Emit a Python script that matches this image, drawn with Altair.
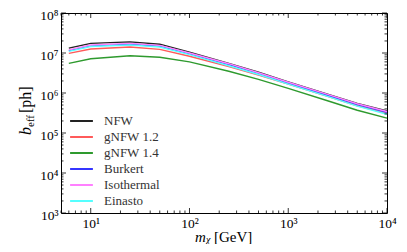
import altair as alt
import pandas as pd

mass = [6, 10, 25, 50, 100, 250, 500, 1000, 2500, 5000, 10000]
series_names = ["NFW", "gNFW 1.2", "gNFW 1.4", "Burkert", "Isothermal", "Einasto"]
colors = ["#222222", "#ff5a5a", "#2e9a2e", "#3535ff", "#ff80ff", "#55ffff"]

nfw = [1.32e7, 1.74e7, 1.90e7, 1.66e7, 1.05e7, 5.5e6, 3.3e6, 1.9e6, 9.4e5, 5.5e5, 3.55e5]
gnfw12 = [9.8e6, 1.26e7, 1.41e7, 1.23e7, 8.3e6, 4.6e6, 2.8e6, 1.66e6, 8.2e5, 4.8e5, 3.1e5]
gnfw14 = [5.5e6, 7.2e6, 8.5e6, 7.8e6, 6.0e6, 3.5e6, 2.2e6, 1.3e6, 6.4e5, 3.7e5, 2.35e5]
burkert = [1.15e7, 1.51e7, 1.66e7, 1.48e7, 9.5e6, 5.1e6, 3.1e6, 1.78e6, 8.8e5, 5.1e5, 3.3e5]
isothermal = [1.20e7, 1.58e7, 1.74e7, 1.55e7, 1.0e7, 5.4e6, 3.2e6, 1.86e6, 9.2e5, 5.4e5, 3.45e5]
einasto = [1.10e7, 1.45e7, 1.58e7, 1.41e7, 9.1e6, 4.8e6, 2.9e6, 1.66e6, 8.2e5, 4.7e5, 2.95e5]

x_major = [10, 100, 1000, 10000]
x_minor = [5, 6, 7, 8, 9, 20, 30, 40, 50, 60, 70, 80, 90, 200, 300, 400, 500, 600, 700, 800, 900,
           2000, 3000, 4000, 5000, 6000, 7000, 8000, 9000]
y_major = [1e3, 1e4, 1e5, 1e6, 1e7, 1e8]
y_minor = [m * 10 ** e for e in range(3, 8) for m in range(2, 10)]

W, H = 326, 200
FONT = "Liberation Serif"

rows = []
for name, vals in zip(series_names, [nfw, gnfw12, gnfw14, burkert, isothermal, einasto]):
    for m, v in zip(mass, vals):
        rows.append({"mass": m, "b": v, "profile": name})
df = pd.DataFrame(rows)

xscale = alt.Scale(type="log", domain=[5, 10000], nice=False)
yscale = alt.Scale(type="log", domain=[1e3, 1e8], nice=False)

sup = "['⁰','¹','²','³','⁴','⁵','⁶','⁷','⁸','⁹'][round(log(datum.value)/LN10)]"

lines = alt.Chart(df).mark_line(strokeWidth=1.4).encode(
    x=alt.X("mass:Q", scale=xscale,
            axis=alt.Axis(values=x_major, labelExpr="'10' + " + sup, title=None, ticks=False,
                          grid=False, domain=False, labelFont=FONT, labelFontSize=13.5,
                          labelColor="black", labelPadding=3, labelFlush=False)),
    y=alt.Y("b:Q", scale=yscale,
            axis=alt.Axis(values=y_major, labelExpr="'10' + " + sup, title=None, ticks=False,
                          grid=False, domain=False, labelFont=FONT, labelFontSize=13.5,
                          labelColor="black", labelPadding=3, labelOffset=2, labelFlush=False)),
    color=alt.Color("profile:N", scale=alt.Scale(domain=series_names, range=colors),
                    legend=alt.Legend(title=None, orient="none", legendX=8, legendY=100,
                                      symbolType="stroke", symbolSize=520, symbolStrokeWidth=2,
                                      clipHeight=16, rowPadding=0, labelFont=FONT,
                                      labelFontSize=13, labelColor="#333", labelOffset=10)),
    detail="profile:N",
)

def xticks(vals, length, bottom):
    d = pd.DataFrame({"v": vals})
    if bottom:
        y, y2 = H, H - length
    else:
        y, y2 = 0, length
    return alt.Chart(d).mark_rule(color="black", strokeWidth=0.8).encode(
        x=alt.X("v:Q", scale=xscale), y=alt.value(y), y2=alt.value(y2))

def yticks(vals, length, left):
    d = pd.DataFrame({"v": vals})
    if left:
        x, x2 = 0, length
    else:
        x, x2 = W, W - length
    return alt.Chart(d).mark_rule(color="black", strokeWidth=0.8).encode(
        y=alt.Y("v:Q", scale=yscale), x=alt.value(x), x2=alt.value(x2))

ticks = [xticks(x_major, 5, True), xticks(x_major, 5, False),
         xticks(x_minor, 2.5, True), xticks(x_minor, 2.5, False),
         yticks(y_major, 5, True), yticks(y_major, 5, False),
         yticks(y_minor, 2.5, True), yticks(y_minor, 2.5, False)]

def txt(s, x, y, size, italic=False, angle=0):
    d = pd.DataFrame({"t": [s]})
    kw = dict(font=FONT, fontSize=size, align="left", baseline="alphabetic", color="black")
    if italic:
        kw["fontStyle"] = "italic"
    if angle:
        kw["angle"] = angle
    return alt.Chart(d).mark_text(**kw).encode(text="t:N", x=alt.value(x), y=alt.value(y))

titles = [
    txt("m", 134, 228.5, 15, italic=True),
    txt("χ", 145, 230, 10, italic=True),
    txt("[GeV]", 153, 228.5, 15),
    txt("b", -30, 122, 16, italic=True, angle=270),
    txt("eff", -27, 114, 11, angle=270),
    txt("[ph]", -30, 100, 16, angle=270),
]

chart = alt.layer(lines, *ticks, *titles).properties(
    width=W, height=H,
    autosize=alt.AutoSizeParams(type="none"),
    padding={"left": 53, "top": 5, "right": 12, "bottom": 31},
).configure_view(stroke="black", strokeWidth=1)

chart.save("out.html", embed_options={"renderer": "svg", "actions": False})
